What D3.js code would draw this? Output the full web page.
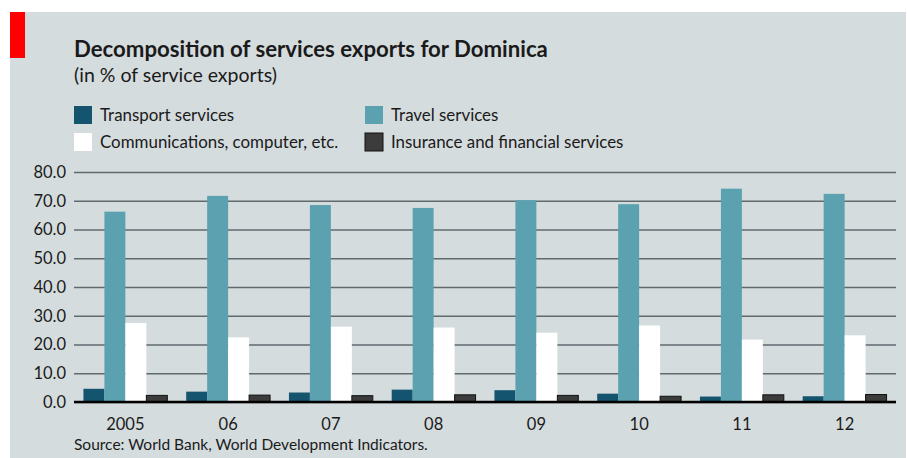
<!DOCTYPE html>
<html>
<head>
<meta charset="utf-8">
<script src="https://cdn.jsdelivr.net/npm/d3@7"></script>
<style>
  body { margin: 0; background: #fff; }
  text { font-family: Lato, "Open Sans", sans-serif; fill: #1a1a1a; }
</style>
</head>
<body>
<div id="chart"></div>
<script>
// data
var years = ["2005", "06", "07", "08", "09", "10", "11", "12"];
var seriesNames = ["Transport services", "Travel services", "Communications, computer, etc.", "Insurance and financial services"];
var transport = [4.6, 3.6, 3.3, 4.3, 4.1, 2.9, 1.9, 2.0];
var travel = [66.2, 71.7, 68.5, 67.5, 70.2, 68.8, 74.2, 72.4];
var communications = [27.5, 22.5, 26.2, 25.9, 24.1, 26.6, 21.7, 23.2];
var insurance = [2.3, 2.4, 2.2, 2.5, 2.3, 2.0, 2.5, 2.6];
var yTicks = [0, 10, 20, 30, 40, 50, 60, 70, 80];

var seriesValues = [transport, travel, communications, insurance];
var colors = ["#15546f", "#5ba1b0", "#ffffff", "#3c3c3c"];

var width = 907, height = 458;
var plotLeft = 74, plotRight = 896;
var plotTop = 172, plotBottom = 402;

var svg = d3.select('#chart').append('svg')
  .attr('width', width)
  .attr('height', height);

// background panel
svg.append('rect')
  .attr('x', 10).attr('y', 12)
  .attr('width', 896).attr('height', 446)
  .attr('fill', '#d5dcde');

// red tag
svg.append('rect')
  .attr('x', 10).attr('y', 12)
  .attr('width', 15).attr('height', 46)
  .attr('fill', '#ff0000');

// titles
svg.append('text')
  .attr('x', 74).attr('y', 57)
  .style('font-size', '22.2px')
  .style('font-weight', 'bold')
  .text('Decomposition of services exports for Dominica');

svg.append('text')
  .attr('x', 74).attr('y', 82)
  .style('font-size', '19.5px')
  .text('(in % of service exports)');

// legend
var legendPos = [[74, 106], [365, 106], [74, 133], [365, 133]];
var legend = svg.selectAll('.legend')
  .data(seriesNames)
  .enter().append('g')
  .attr('class', 'legend')
  .attr('transform', function(d, i) { return 'translate(' + legendPos[i][0] + ',' + legendPos[i][1] + ')'; });

legend.append('rect')
  .attr('width', 18).attr('height', 18)
  .attr('fill', function(d, i) { return colors[i]; })
  .attr('stroke', function(d, i) { return i === 3 ? '#111' : 'none'; })
  .attr('stroke-width', 1);

legend.append('text')
  .attr('x', 26).attr('y', 15)
  .style('font-size', '16.9px')
  .text(function(d) { return d; });

// scales
var y = d3.scaleLinear().domain([0, 80]).range([plotBottom, plotTop]);
var x0 = d3.scaleBand().domain(years).range([plotLeft, plotRight]).padding(0);
var x1 = d3.scaleBand().domain(d3.range(seriesNames.length))
  .range([0, x0.bandwidth()])
  .paddingInner(0)
  .paddingOuter(0.45);

// gridlines + y labels
var yAxis = d3.axisLeft(y)
  .tickValues(yTicks)
  .tickSize(plotLeft - plotRight)
  .tickPadding(8)
  .tickFormat(d3.format('.1f'));

var gy = svg.append('g')
  .attr('transform', 'translate(' + plotLeft + ',0)')
  .call(yAxis);
gy.select('.domain').remove();
gy.selectAll('.tick line')
  .attr('stroke', '#5f6a6e')
  .attr('stroke-width', 1.6);
gy.selectAll('.tick text')
  .attr('x', -8)
  .style('font-size', '16.5px')
  .style('fill', '#1a1a1a');

// bars
var groups = svg.selectAll('.year')
  .data(years)
  .enter().append('g')
  .attr('class', 'year')
  .attr('transform', function(d) { return 'translate(' + x0(d) + ',0)'; });

groups.selectAll('rect')
  .data(function(d, i) { return seriesValues.map(function(s, k) { return { k: k, v: s[i] }; }); })
  .enter().append('rect')
  .attr('x', function(d) { return x1(d.k); })
  .attr('width', x1.bandwidth())
  .attr('y', function(d) { return y(d.v); })
  .attr('height', function(d) { return y(0) - y(d.v); })
  .attr('fill', function(d) { return colors[d.k]; })
  .attr('stroke', function(d) { return d.k === 3 ? '#111' : 'none'; })
  .attr('stroke-width', 1);

// baseline
svg.append('line')
  .attr('x1', plotLeft).attr('x2', plotRight)
  .attr('y1', y(0)).attr('y2', y(0))
  .attr('stroke', '#000')
  .attr('stroke-width', 2.5);

// x labels
var xAxis = d3.axisBottom(x0).tickSize(0).tickPadding(16);
var gx = svg.append('g')
  .attr('transform', 'translate(0,' + plotBottom + ')')
  .call(xAxis);
gx.select('.domain').remove();
gx.selectAll('.tick text')
  .style('font-size', '16.5px')
  .style('fill', '#1a1a1a');

// source
svg.append('text')
  .attr('x', 74).attr('y', 450)
  .style('font-size', '15.5px')
  .text('Source: World Bank, World Development Indicators.');
</script>
</body>
</html>
